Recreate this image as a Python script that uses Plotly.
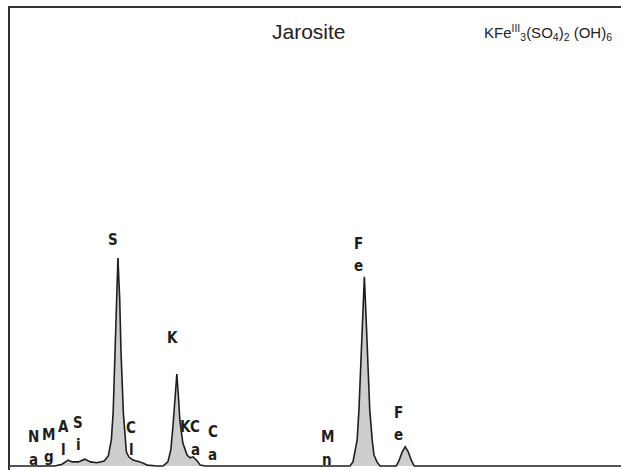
import plotly.graph_objects as go

# spectrum outline (energy in keV, counts in % of frame height)
energy = [0.51, 1.26, 1.38, 1.48, 1.55, 1.65, 1.76, 1.85, 1.96, 2.08, 2.15, 2.20,
          2.23, 2.26, 2.29, 2.31, 2.34, 2.36, 2.40, 2.43, 2.45, 2.49, 2.56, 2.68,
          2.80, 2.96, 3.06, 3.14, 3.19, 3.23, 3.26, 3.29, 3.32, 3.34, 3.39, 3.46,
          3.51, 3.56, 3.63, 3.68, 3.76, 6.17, 6.22, 6.26, 6.29, 6.32, 6.35, 6.39,
          6.41, 6.44, 6.47, 6.50, 6.54, 6.57, 6.62, 6.67, 6.94, 6.99, 7.04, 7.09,
          7.14, 7.19, 7.24, 10.68]
counts = [0.0, 0.0, 0.4, 1.3, 0.9, 0.9, 1.5, 0.9, 0.7, 1.1, 2.2, 5.7,
          11.6, 25.3, 36.2, 45.4, 36.2, 25.3, 11.6, 5.7, 3.1, 2.0, 1.3, 0.9,
          0.2, 0.0, 0.0, 0.9, 3.5, 9.4, 14.4, 20.1, 14.4, 10.0, 5.0, 2.4,
          1.8, 2.0, 1.1, 0.2, 0.0, 0.0, 0.9, 3.5, 5.7, 12.2, 21.0, 31.9,
          41.3, 31.9, 21.0, 12.2, 5.7, 2.4, 0.9, 0.0, 0.0, 1.3, 3.1, 4.2,
          3.1, 1.3, 0.0, 0.0]

# element labels: upper letter, lower letter, energy, height of upper letter
label_top = ["N", "M", "A", "S", "S", "C", "K", "K", "C", "C", "M", "F", "F"]
label_bot = ["a", "g", "l", "i", "", "l", "", "", "a", "a", "n", "e", "e"]
label_e = [0.91, 1.16, 1.40, 1.65, 2.23, 2.53, 3.21, 3.44, 3.60, 3.89, 5.79, 6.32, 6.97]
label_y = [6.3, 6.8, 8.5, 9.4, 49.3, 8.3, 27.9, 8.5, 8.5, 7.4, 6.3, 48.5, 11.6]

fig = go.Figure()
fig.add_trace(go.Scatter(
    x=energy, y=counts, mode='lines',
    line=dict(color='#1e1e1e', width=1.6),
    fill='tozeroy', fillcolor='#cdcdcd',
    hoverinfo='skip'
))

letter_font = dict(family='DejaVu Sans Condensed', size=15, color='#1e1e1e')
for top, bot, e, y in zip(label_top, label_bot, label_e, label_y):
    fig.add_annotation(x=e, y=y, text='<b>' + top + '</b>', showarrow=False,
                       font=letter_font, xanchor='center', yanchor='middle')
    if bot:
        fig.add_annotation(x=e, y=y - 4.9, text='<b>' + bot + '</b>', showarrow=False,
                           font=letter_font, xanchor='center', yanchor='middle')

fig.add_annotation(xref='paper', yref='paper', x=0.49, y=0.95, text='Jarosite',
                   showarrow=False, xanchor='center', yanchor='middle',
                   font=dict(family='Liberation Sans', size=21, color='#222'))
fig.add_annotation(xref='paper', yref='paper', x=0.988, y=0.948,
                   text='KFe<sup>III</sup><sub>3</sub>(SO<sub>4</sub>)<sub>2</sub> (OH)<sub>6</sub>',
                   showarrow=False, xanchor='right', yanchor='middle',
                   font=dict(family='Liberation Sans', size=15, color='#222'))

fig.update_layout(
    width=621, height=470,
    margin=dict(l=10, r=0, t=8, b=0),
    plot_bgcolor='white',
    paper_bgcolor='white',
    showlegend=False,
    xaxis=dict(range=[0.514, 10.68], side='top', showline=True, linecolor='#333',
               linewidth=2, showgrid=False, zeroline=False, showticklabels=False,
               ticks=''),
    yaxis=dict(range=[-0.87, 100], showline=True, linecolor='#333', linewidth=2,
               showgrid=False, zeroline=False, showticklabels=False, ticks=''),
)

fig.write_html("out.html", config={'displayModeBar': False},
               post_script="document.body.style.margin='0';")
